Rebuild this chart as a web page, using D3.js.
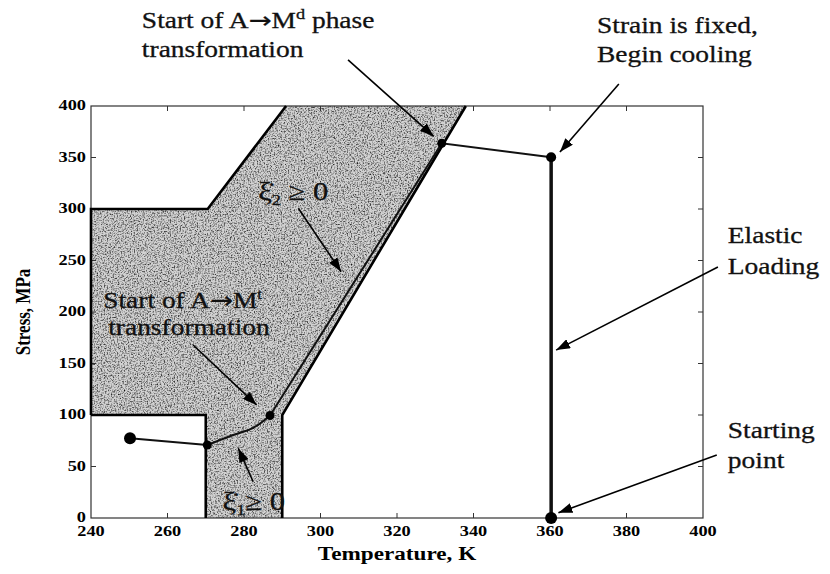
<!DOCTYPE html>
<html>
<head>
<meta charset="utf-8">
<script src="https://cdn.jsdelivr.net/npm/d3@7"></script>
<style>
  body { margin: 0; background: #fff; }
</style>
</head>
<body>
<div id="chart"></div>
<script>
// axis setup
const xDomain = [240, 400];
const yDomain = [0, 400];
const xTicks = [240, 260, 280, 300, 320, 340, 360, 380, 400];
const yTicks = [0, 50, 100, 150, 200, 250, 300, 350, 400];

// shaded transformation region (temperature K, stress MPa)
const region = [[270, 0], [290, 0], [290, 100], [338, 400], [291, 400],
                [270.5, 300], [240, 300], [240, 100], [270, 100]];
// black boundary lines of the region
const boundaryUpper = [[240, 100], [240, 300], [270.5, 300], [291, 400]];
const boundaryLower = [[240, 100], [270, 100], [270, 0]];
const boundaryRight = [[290, 0], [290, 100], [338, 400]];

// loading path
const pathCool = [[250.2, 77.4], [270.4, 70.9]];
const pathCurve = [[270.4, 70.9], [277.2, 80.6], [282.4, 87.5], [286.8, 99.5]];
const pathUpper = [[286.8, 99.5], [331.7, 363.8], [360.3, 350.2]];
const pathElastic = [[360.3, 350.2], [360.3, 0]];
const markers = [[250.2, 77.4, 6], [270.4, 70.9, 4.5], [286.8, 99.5, 4.5],
                 [331.7, 363.8, 4.5], [360.3, 350.2, 5], [360.3, 0, 6]];

// annotation arrows [tailT, tailS, headT, headS]
const arrows = [
  [307.2, 444.7, 329.6, 370.5],
  [378.0, 421.4, 362.6, 355.3],
  [403.9, 243.7, 361.6, 163.0],
  [403.6, 61.2, 362.2, 5.1],
  [294.2, 300.7, 305.4, 239.1],
  [266.7, 168.0, 283.3, 109.7],
  [282.4, 35.2, 278.5, 67.7]
];

const width = 830, height = 574;
const x = d3.scaleLinear().domain(xDomain).range([91, 703]);
const y = d3.scaleLinear().domain(yDomain).range([518, 106]);
const SX = 1.22; // the scan is stretched horizontally

const svg = d3.select("#chart").append("svg")
  .attr("width", width)
  .attr("height", height)
  .style("background", "#fff");

const defs = svg.append("defs");
defs.append("marker")
  .attr("id", "head")
  .attr("viewBox", "0 0 14 10")
  .attr("refX", 14).attr("refY", 5)
  .attr("markerUnits", "userSpaceOnUse")
  .attr("markerWidth", 14).attr("markerHeight", 10)
  .attr("orient", "auto")
  .append("path").attr("d", "M0,0 L14,5 L0,10 Z").attr("fill", "#000");

const grain = defs.append("filter").attr("id", "grain")
  .attr("x", 0).attr("y", 0).attr("width", 1).attr("height", 1);
grain.append("feTurbulence")
  .attr("type", "fractalNoise").attr("baseFrequency", 0.7)
  .attr("numOctaves", 2).attr("seed", 4).attr("result", "n");
grain.append("feColorMatrix").attr("in", "n").attr("type", "matrix")
  .attr("values", "0 0 0 0 0  0 0 0 0 0  0 0 0 0 0  2.0 0 0 0 -0.88")
  .attr("result", "a");
grain.append("feComposite").attr("in", "a").attr("in2", "SourceGraphic")
  .attr("operator", "in");

const line = d3.line().x(d => x(d[0])).y(d => y(d[1]));

// shaded region
svg.append("path")
  .attr("d", line(region) + "Z")
  .attr("fill", "#d2d2d2");
svg.append("path")
  .attr("d", line(region) + "Z")
  .attr("fill", "#000")
  .attr("filter", "url(#grain)");

// frame
svg.append("rect")
  .attr("x", x(240)).attr("y", y(400))
  .attr("width", x(400) - x(240)).attr("height", y(0) - y(400))
  .attr("fill", "none").attr("stroke", "#333").attr("stroke-width", 1.2);

// ticks on all four sides, pointing inward
const tk = 5;
svg.append("g").selectAll("line").data(xTicks.slice(1, -1)).join("line")
  .attr("x1", d => x(d)).attr("x2", d => x(d))
  .attr("y1", y(0)).attr("y2", y(0) - tk)
  .attr("stroke", "#333");
svg.append("g").selectAll("line").data(xTicks.slice(1, -1)).join("line")
  .attr("x1", d => x(d)).attr("x2", d => x(d))
  .attr("y1", y(400)).attr("y2", y(400) + tk)
  .attr("stroke", "#333");
svg.append("g").selectAll("line").data(yTicks.slice(1, -1)).join("line")
  .attr("x1", x(240)).attr("x2", x(240) + tk)
  .attr("y1", d => y(d)).attr("y2", d => y(d))
  .attr("stroke", "#333");
svg.append("g").selectAll("line").data(yTicks.slice(1, -1)).join("line")
  .attr("x1", x(400)).attr("x2", x(400) - tk)
  .attr("y1", d => y(d)).attr("y2", d => y(d))
  .attr("stroke", "#333");

// tick labels
const serif = "'Liberation Serif', 'DejaVu Serif', serif";
svg.append("g").selectAll("text").data(xTicks).join("text")
  .attr("transform", d => `translate(${x(d)},${y(0) + 18}) scale(${SX},1)`)
  .attr("text-anchor", "middle")
  .style("font-family", serif).style("font-weight", "bold").style("font-size", "15px")
  .text(d => d);
svg.append("g").selectAll("text").data(yTicks).join("text")
  .attr("transform", d => `translate(${x(240) - 5},${y(d) + 4}) scale(${SX},1)`)
  .attr("text-anchor", "end")
  .style("font-family", serif).style("font-weight", "bold").style("font-size", "15px")
  .text(d => d);

// axis titles
svg.append("text")
  .attr("transform", `translate(${(x(240) + x(400)) / 2},${y(0) + 42}) scale(${SX},1)`)
  .attr("text-anchor", "middle")
  .style("font-family", serif).style("font-weight", "bold").style("font-size", "19px")
  .text("Temperature, K");
svg.append("text")
  .attr("transform", `translate(30,${(y(0) + y(400)) / 2}) rotate(-90) scale(1,${SX})`)
  .attr("text-anchor", "middle")
  .style("font-family", serif).style("font-weight", "bold").style("font-size", "17px")
  .text("Stress, MPa");

// region boundaries
[boundaryUpper, boundaryLower, boundaryRight].forEach(b => {
  svg.append("path").attr("d", line(b))
    .attr("fill", "none").attr("stroke", "#000").attr("stroke-width", 2.6)
    .attr("stroke-linejoin", "miter");
});

// loading path
svg.append("path").attr("d", line(pathCool))
  .attr("fill", "none").attr("stroke", "#111").attr("stroke-width", 2);
svg.append("path").attr("d", line.curve(d3.curveCatmullRom)(pathCurve))
  .attr("fill", "none").attr("stroke", "#111").attr("stroke-width", 2);
line.curve(d3.curveLinear);
svg.append("path").attr("d", line(pathUpper))
  .attr("fill", "none").attr("stroke", "#111").attr("stroke-width", 2);
svg.append("path").attr("d", line(pathElastic))
  .attr("fill", "none").attr("stroke", "#111").attr("stroke-width", 3.5);
svg.append("g").selectAll("circle").data(markers).join("circle")
  .attr("cx", d => x(d[0])).attr("cy", d => y(d[1])).attr("r", d => d[2])
  .attr("fill", "#000");

// arrows
svg.append("g").selectAll("line").data(arrows).join("line")
  .attr("x1", d => x(d[0])).attr("y1", d => y(d[1]))
  .attr("x2", d => x(d[2])).attr("y2", d => y(d[3]))
  .attr("stroke", "#000").attr("stroke-width", 1.6)
  .attr("marker-end", "url(#head)");

// annotation text; parts are strings or {s, dy, fs, ff} pieces
function note(T, S, size, parts) {
  const t = svg.append("text")
    .attr("transform", `translate(${x(T)},${y(S)}) scale(${SX},1)`)
    .style("font-family", serif).style("font-size", size + "px")
    .attr("fill", "#111").attr("stroke", "#111").attr("stroke-width", 0.3);
  let back = 0;
  parts.forEach(p => {
    if (typeof p === "string") {
      t.append("tspan").attr("dy", -back).text(p);
      back = 0;
    } else {
      const dy = p.dy || 0;
      const ts = t.append("tspan").attr("dy", dy - back).text(p.s);
      if (p.fs) ts.style("font-size", p.fs);
      if (p.ff) ts.style("font-family", p.ff);
      back = dy;
    }
  });
}

const arrowGlyph = { s: "\u2192", ff: "'DejaVu Sans', sans-serif" };
note(253.3, 475.7, 22.5, ["Start of A", arrowGlyph, "M", { s: "d", dy: -9, fs: "15px" }, " phase"]);
note(253.3, 448, 22.5, ["transformation"]);
note(372.3, 470.9, 22.5, ["Strain is fixed,"]);
note(372.3, 442.7, 22.5, ["Begin cooling"]);
note(406.5, 267, 22.5, ["Elastic"]);
note(406.5, 237, 22.5, ["Loading"]);
note(406.5, 77.7, 22.5, ["Starting"]);
note(406.5, 48.5, 22.5, ["point"]);
note(243.2, 203.9, 22.5, ["Start of A", arrowGlyph, "M", { s: "t", dy: -9, fs: "14px" }]);
note(244.5, 177.7, 22.5, ["transformation"]);
note(283.7, 308.7, 25, ["\u03be\u0307", { s: "2", dy: 5, fs: "15px" }, " \u2265 0"]);
note(274.4, 7.8, 25, ["\u03be\u0307", { s: "1", dy: 5, fs: "15px" }, "\u2265 0"]);
</script>
</body>
</html>
